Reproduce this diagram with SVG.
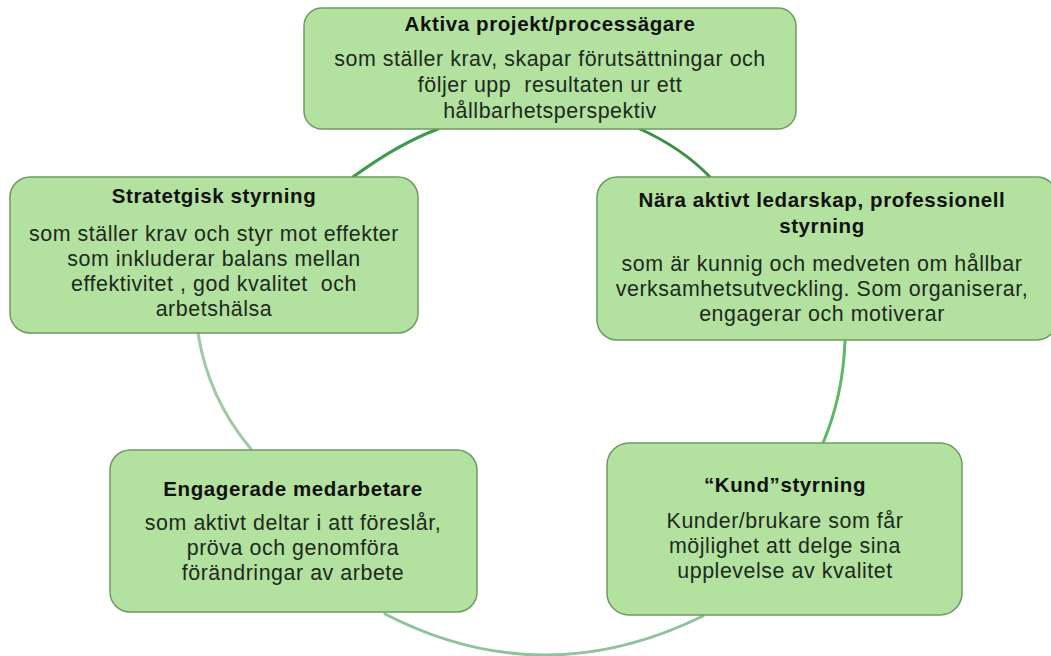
<svg xmlns="http://www.w3.org/2000/svg" width="1051" height="656" viewBox="0 0 1051 656">
<style>
.box{fill:#b3e19f;stroke:#6f9a62;stroke-width:1.5}
.t{font-family:"Liberation Sans",Arial,sans-serif;font-size:20.5px;font-weight:bold;letter-spacing:0.6px;fill:#111;text-anchor:middle}
.b{font-family:"Liberation Sans",Arial,sans-serif;font-size:21.4px;letter-spacing:0.55px;fill:#1d2a1d;text-anchor:middle;white-space:pre}
.c{fill:none;stroke-width:3;stroke-linecap:round}
</style>
<rect width="1051" height="656" fill="#ffffff"/>
<g id="connectors">
<path class="c" d="M438,129 Q398,144 353,177" stroke="#3f9a4c"/>
<path class="c" d="M640,129 Q682,148 710,177" stroke="#3a8f45"/>
<path class="c" d="M198,333 Q208,398 251,449" stroke="#9fcba4"/>
<path class="c" d="M845,341 Q843,396 823,443" stroke="#5db866"/>
<path class="c" d="M385,614 Q542,695 703,616" stroke="#8fc49a"/>
</g>
<g id="node-top">
<rect class="box" x="304" y="8" width="492" height="121" rx="18"/>
<text class="t" x="550" y="31">Aktiva projekt/processägare</text>
<text class="b" x="550" y="66">som ställer krav, skapar förutsättningar och</text>
<text class="b" x="550" y="92" xml:space="preserve">följer upp  resultaten ur ett</text>
<text class="b" x="550" y="118">hållbarhetsperspektiv</text>
</g>
<g id="node-strategisk">
<rect class="box" x="10" y="177" width="408" height="156" rx="20"/>
<text class="t" x="214" y="203">Stratetgisk styrning</text>
<text class="b" x="214" y="241">som ställer krav och styr mot effekter</text>
<text class="b" x="214" y="266">som inkluderar balans mellan</text>
<text class="b" x="214" y="291" xml:space="preserve">effektivitet , god kvalitet  och</text>
<text class="b" x="214" y="316">arbetshälsa</text>
</g>
<g id="node-nara">
<rect class="box" x="597" y="177" width="460" height="163" rx="20"/>
<text class="t" x="822" y="207">Nära aktivt ledarskap, professionell</text>
<text class="t" x="822" y="233">styrning</text>
<text class="b" x="822" y="271">som är kunnig och medveten om hållbar</text>
<text class="b" x="822" y="296">verksamhetsutveckling. Som organiserar,</text>
<text class="b" x="822" y="321">engagerar och motiverar</text>
</g>
<g id="node-engagerade">
<rect class="box" x="110" y="450" width="367" height="162" rx="20"/>
<text class="t" x="293" y="496">Engagerade medarbetare</text>
<text class="b" x="293" y="530">som aktivt deltar i att föreslår,</text>
<text class="b" x="293" y="555">pröva och genomföra</text>
<text class="b" x="293" y="580">förändringar av arbete</text>
</g>
<g id="node-kund">
<rect class="box" x="607" y="443" width="355" height="172" rx="22"/>
<text class="t" x="785" y="492">“Kund”styrning</text>
<text class="b" x="785" y="528">Kunder/brukare som får</text>
<text class="b" x="785" y="553">möjlighet att delge sina</text>
<text class="b" x="785" y="578">upplevelse av kvalitet</text>
</g>
</svg>
